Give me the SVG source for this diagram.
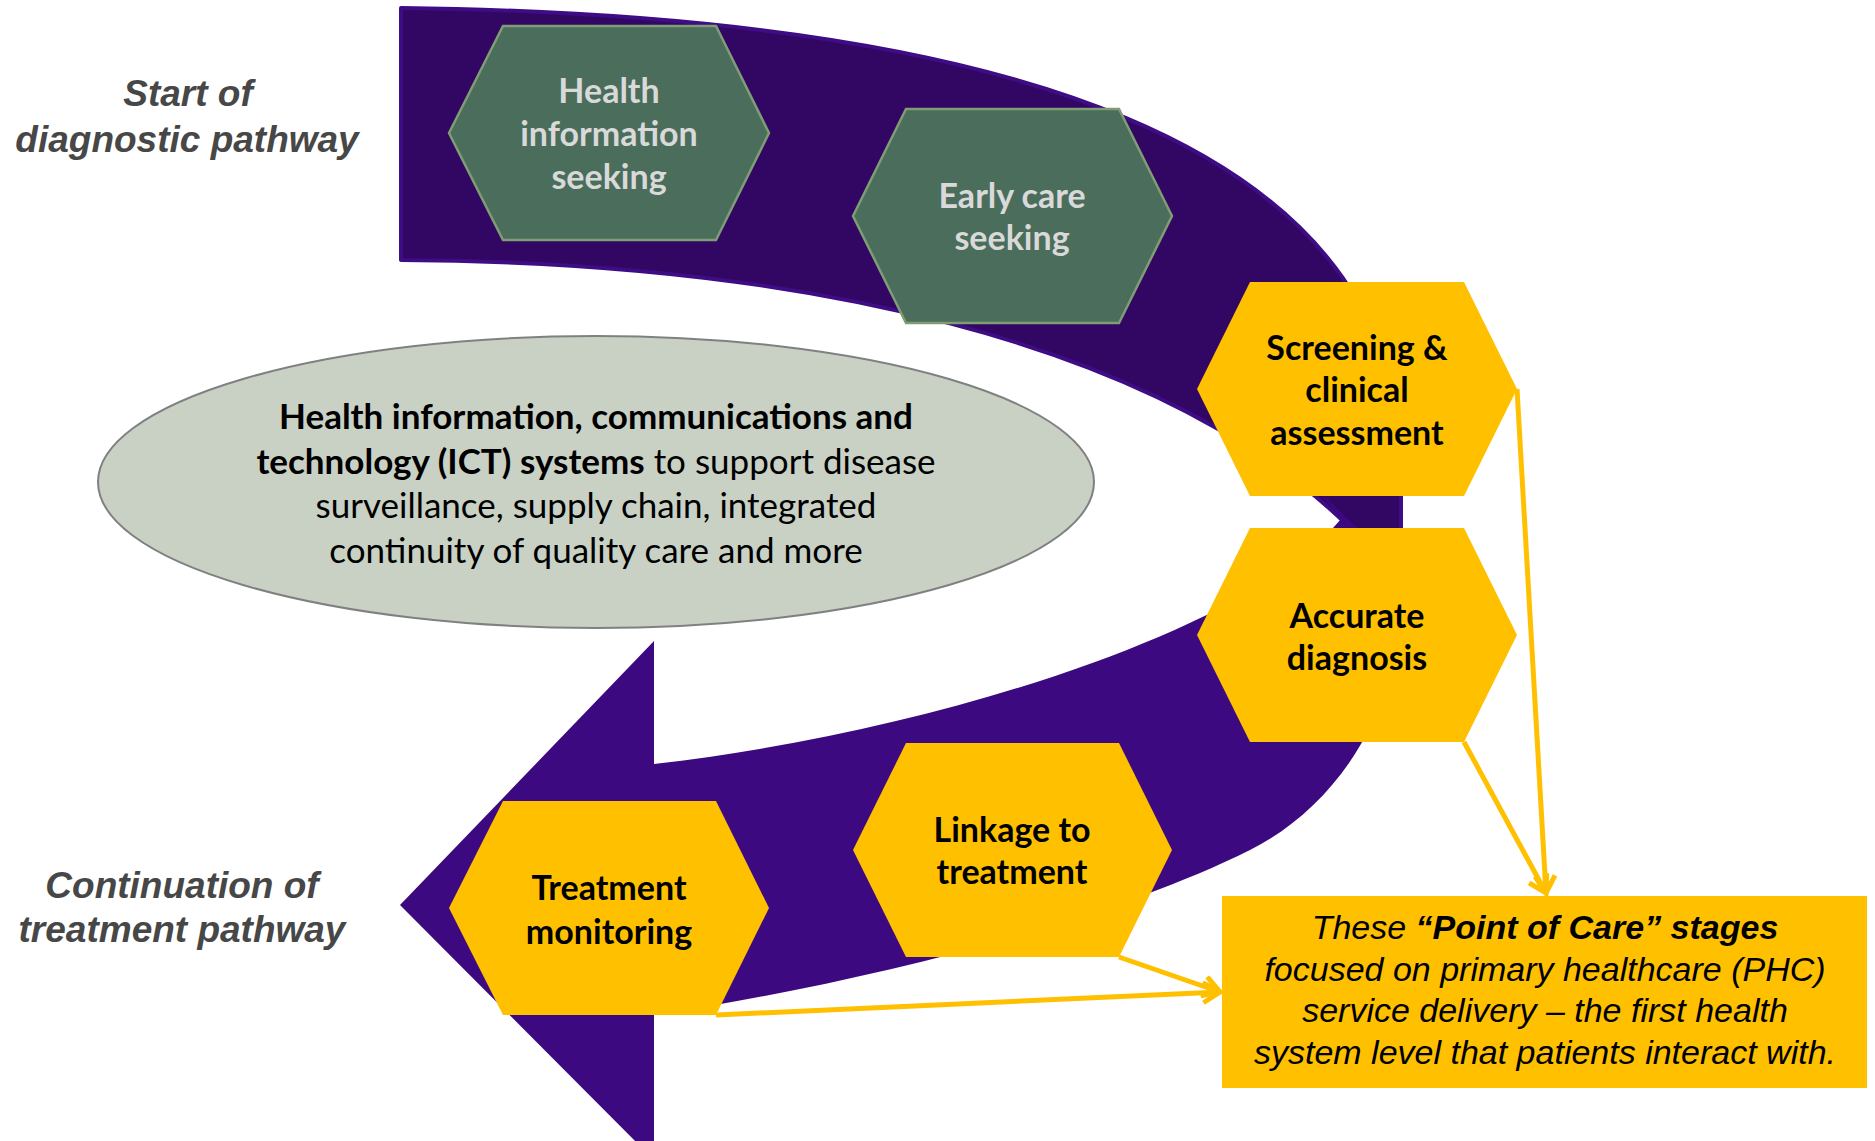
<svg xmlns="http://www.w3.org/2000/svg" width="1875" height="1141" viewBox="0 0 1875 1141">
<defs>
<style>
.band1{fill:#320663;stroke:#3e0c84;stroke-width:4;stroke-linejoin:round}
.band2{fill:#3d0980}
.hexg{fill:#4a6e5b;stroke:#7f9c74;stroke-width:2.5}
.hexy{fill:#ffc000}
.tg{font-family:Lato,"Open Sans",sans-serif;font-weight:700;font-size:34px;fill:#d9d9d9;text-anchor:middle}
.ty{font-family:Lato,"Open Sans",sans-serif;font-weight:700;font-size:34px;fill:#000;text-anchor:middle}
.lbl{font-family:"Liberation Sans",Arial,sans-serif;font-style:italic;font-weight:700;font-size:37px;fill:#474747;text-anchor:middle}
.box{font-family:"Liberation Sans",Arial,sans-serif;font-style:italic;font-size:34px;fill:#000;text-anchor:middle}
.ell{font-family:Lato,"Open Sans",sans-serif;font-size:35px;fill:#000;text-anchor:middle}
.conn{stroke:#ffc000;stroke-width:5;fill:none;marker-end:url(#arr)}
</style>
<marker id="arr" markerUnits="userSpaceOnUse" viewBox="0 0 24 24" markerWidth="24" markerHeight="24" refX="20" refY="12" orient="auto">
<path d="M3,2 L20,12 L3,22" fill="none" stroke="#ffc000" stroke-width="5"/>
</marker>
</defs>
<rect width="1875" height="1141" fill="#fff"/>
<g id="pathway-band">
<path class="band1" d="M401,8 C1000,15 1401,140 1401,470 L1401,560 L1341,519 C1150,340 800,262 401,260 Z"/>
<path class="band2" d="M654,764 L654,641 L400,905 L654,1160 L654,1015 C850,985 1100,925 1250,850 C1340,805 1410,700 1405,560 L1357,528 L1318,490 L1341,519 L1333,528 C1250,625 950,730 654,764 Z"/>
</g>
<g id="label-start">
<text class="lbl" x="188" y="106">Start of</text>
<text class="lbl" x="187" y="152">diagnostic pathway</text>
</g>
<g id="label-continuation">
<text class="lbl" x="182" y="898">Continuation of</text>
<text class="lbl" x="182" y="942">treatment pathway</text>
</g>
<g id="ict-ellipse">
<ellipse cx="596" cy="482" rx="498" ry="146" fill="#c9d1c5" stroke="#808080" stroke-width="2"/>
<text class="ell" x="596" y="429" font-weight="700">Health information, communications and</text>
<text class="ell" x="596" y="474"><tspan font-weight="700">technology (ICT) systems</tspan> to support disease</text>
<text class="ell" x="596" y="518">surveillance, supply chain, integrated</text>
<text class="ell" x="596" y="563">continuity of quality care and more</text>
</g>
<g id="hex-health-info">
<polygon class="hexg" points="449,133 503,26 716,26 769,133 716,240 503,240"/>
<text class="tg" x="609" y="103">Health</text>
<text class="tg" x="609" y="146">information</text>
<text class="tg" x="609" y="189">seeking</text>
</g>
<g id="hex-early-care">
<polygon class="hexg" points="853,216 906,109 1119,109 1172,216 1119,323 906,323"/>
<text class="tg" x="1012" y="208">Early care</text>
<text class="tg" x="1012" y="250">seeking</text>
</g>
<g id="hex-screening">
<polygon class="hexy" points="1197,389 1250,282 1464,282 1517,389 1464,496 1250,496"/>
<text class="ty" x="1357" y="360">Screening &amp;</text>
<text class="ty" x="1357" y="402">clinical</text>
<text class="ty" x="1357" y="445">assessment</text>
</g>
<g id="hex-diagnosis">
<polygon class="hexy" points="1197,635 1250,528 1464,528 1517,635 1464,742 1250,742"/>
<text class="ty" x="1357" y="628">Accurate</text>
<text class="ty" x="1357" y="670">diagnosis</text>
</g>
<g id="hex-linkage">
<polygon class="hexy" points="853,850 906,743 1119,743 1172,850 1119,957 906,957"/>
<text class="ty" x="1012" y="842">Linkage to</text>
<text class="ty" x="1012" y="884">treatment</text>
</g>
<g id="hex-monitoring">
<polygon class="hexy" points="449,908 503,801 716,801 769,908 716,1015 503,1015"/>
<text class="ty" x="609" y="900">Treatment</text>
<text class="ty" x="609" y="944">monitoring</text>
</g>
<g id="connectors">
<path class="conn" d="M1517,389 L1546,893"/>
<path class="conn" d="M1464,742 L1546,893"/>
<path class="conn" d="M1119,957 L1220,992"/>
<path class="conn" d="M716,1015 L1220,992"/>
</g>
<g id="poc-box">
<rect x="1222" y="896" width="645" height="192" fill="#ffc000"/>
<text class="box" x="1545" y="939">These <tspan font-weight="700">“Point of Care” stages</tspan></text>
<text class="box" x="1545" y="981">focused on primary healthcare (PHC)</text>
<text class="box" x="1545" y="1022">service delivery – the first health</text>
<text class="box" x="1545" y="1064">system level that patients interact with.</text>
</g>
</svg>
